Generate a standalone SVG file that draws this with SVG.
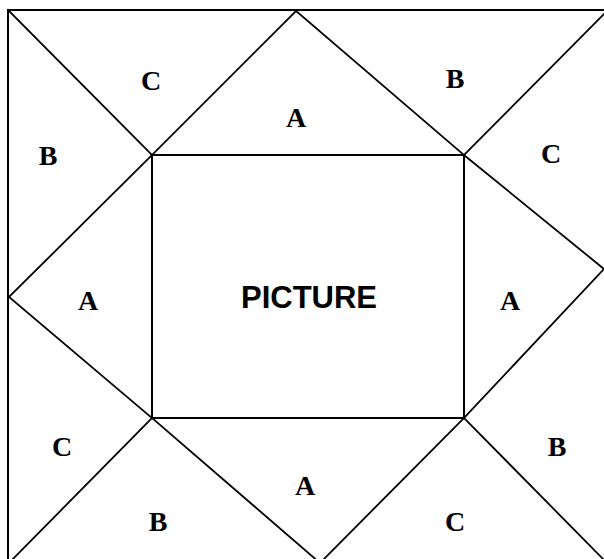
<svg xmlns="http://www.w3.org/2000/svg" width="604" height="559" viewBox="0 0 604 559">
<style>
.bg{fill:#ffffff}
.frame{fill:none;stroke:#000;stroke-width:2}
.ln{stroke:#000;stroke-width:1.8;fill:none;stroke-linecap:square}
.lbl{font-family:"Liberation Serif","Times New Roman",serif;font-weight:bold;font-size:28px;fill:#000;text-anchor:middle;dominant-baseline:central}
.pic{font-family:"Liberation Sans",Arial,sans-serif;font-weight:bold;font-size:31px;fill:#000;text-anchor:middle;dominant-baseline:central}
</style>
<rect class="bg" x="0" y="0" width="604" height="559"/>
<g id="frame">
<rect class="frame" x="8" y="10" width="600" height="554"/>
</g>
<g id="connectors">
<line class="ln" x1="8" y1="10" x2="152" y2="155"/>
<line class="ln" x1="608" y1="10" x2="464" y2="155"/>
<line class="ln" x1="8" y1="564" x2="152" y2="418"/>
<line class="ln" x1="608" y1="564" x2="464" y2="418"/>
<line class="ln" x1="296" y1="11" x2="152" y2="155"/>
<line class="ln" x1="296" y1="11" x2="464" y2="155"/>
<line class="ln" x1="9" y1="297" x2="152" y2="155"/>
<line class="ln" x1="9" y1="297" x2="152" y2="418"/>
<line class="ln" x1="604" y1="269" x2="464" y2="155"/>
<line class="ln" x1="604" y1="269" x2="464" y2="418"/>
<line class="ln" x1="320" y1="563" x2="152" y2="418"/>
<line class="ln" x1="320" y1="563" x2="464" y2="418"/>
</g>
<g id="picture">
<rect class="frame" x="152" y="155" width="312" height="263"/>
<text class="pic" x="309" y="297">PICTURE</text>
</g>
<g id="tri-top-left-C"><text class="lbl" x="151" y="80">C</text></g>
<g id="tri-top-A"><text class="lbl" x="296" y="117">A</text></g>
<g id="tri-top-right-B"><text class="lbl" x="455" y="78">B</text></g>
<g id="tri-left-top-B"><text class="lbl" x="48" y="155">B</text></g>
<g id="tri-right-top-C"><text class="lbl" x="551" y="153">C</text></g>
<g id="tri-left-A"><text class="lbl" x="88" y="300">A</text></g>
<g id="tri-right-A"><text class="lbl" x="510" y="300">A</text></g>
<g id="tri-left-bottom-C"><text class="lbl" x="62" y="446">C</text></g>
<g id="tri-right-bottom-B"><text class="lbl" x="557" y="446">B</text></g>
<g id="tri-bottom-A"><text class="lbl" x="305" y="485">A</text></g>
<g id="tri-bottom-left-B"><text class="lbl" x="158" y="521">B</text></g>
<g id="tri-bottom-right-C"><text class="lbl" x="455" y="521">C</text></g>
</svg>
